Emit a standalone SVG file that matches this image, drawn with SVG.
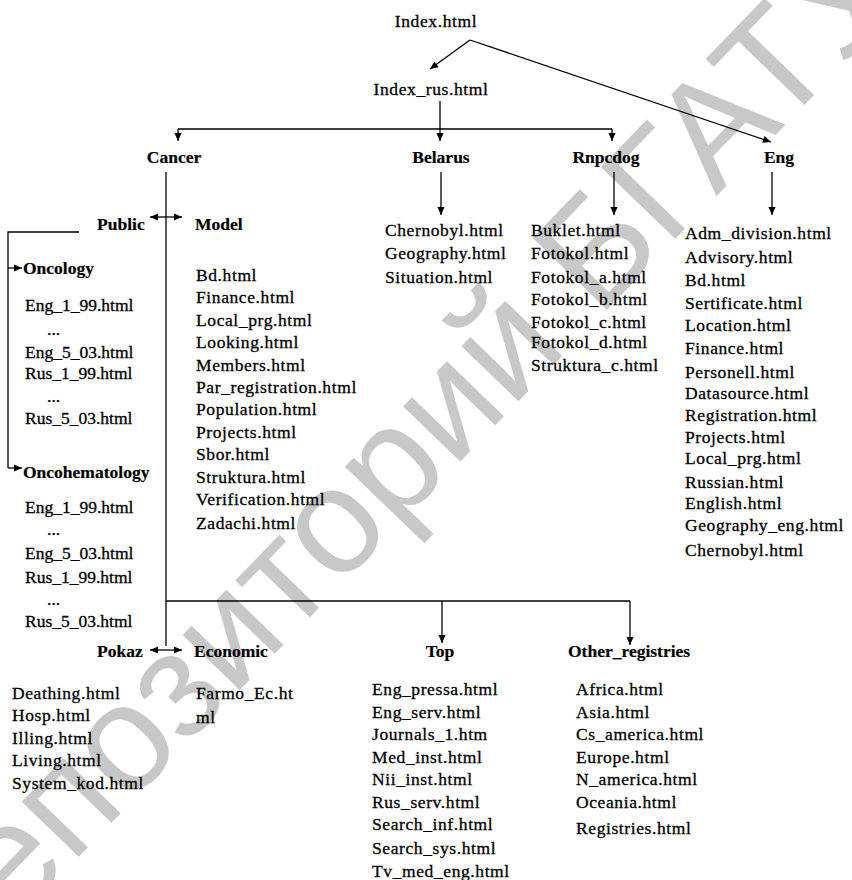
<svg xmlns="http://www.w3.org/2000/svg" width="852" height="880" viewBox="0 0 852 880">
<style>
.t text{font-size:17.5px;fill:#000;stroke:#000;stroke-width:0.3px;letter-spacing:0.6px}
.t .h{font-weight:bold;letter-spacing:0;stroke-width:0.2px}
.t .n{letter-spacing:0}
.t .c{text-anchor:middle}
.wm{font-size:150px;fill:#c8c8c8;text-anchor:middle}
.ln{fill:none;stroke:#000;stroke-width:1.3}
.ar{marker-end:url(#ah)}
.dar{marker-start:url(#ah);marker-end:url(#ah)}
</style>
<defs>
<marker id="ah" viewBox="0 0 10 10" refX="10" refY="5" markerWidth="10" markerHeight="8" markerUnits="userSpaceOnUse" orient="auto-start-reverse">
<path d="M0,0.5 L10,5 L0,9.5 z" fill="#000"/>
</marker>
</defs>
<rect width="852" height="880" fill="#fff"/>
<text class="wm" font-family="'Liberation Sans', Arial, sans-serif" transform="translate(428,495) rotate(-46)">Репозиторий БГАТУ</text>

<g id="connectors">
<path class="ln ar" d="M470,40 L430,69"/>
<path class="ln ar" d="M470,40 L771,142"/>
<path class="ln" d="M440,101 L440,129 M178,129 L612,129"/>
<path class="ln ar" d="M178,129 L178,141"/>
<path class="ln ar" d="M440,129 L440,141"/>
<path class="ln ar" d="M612,129 L612,141"/>
<path class="ln ar" d="M441,172 L441,215"/>
<path class="ln ar" d="M614,172 L614,215"/>
<path class="ln ar" d="M772,172 L772,215"/>
<path class="ln" d="M166,172 L166,646"/>
<path class="ln dar" d="M150,217 L182,217"/>
<path class="ln dar" d="M150,650 L182,650"/>
<path class="ln" d="M79,232 L8,232 L8,468"/>
<path class="ln ar" d="M8,268 L22,268"/>
<path class="ln ar" d="M8,468 L22,468"/>
<path class="ln" d="M166,601 L630,601"/>
<path class="ln ar" d="M442,601 L442,643"/>
<path class="ln ar" d="M630,601 L630,645"/>
</g>

<g class="t" font-family="'Liberation Serif', 'Times New Roman', 'DejaVu Serif', serif">
<g id="index"><text class="c" x="436" y="27">Index.html</text></g>
<g id="index_rus"><text class="c" x="431" y="95">Index_rus.html</text></g>
<g id="cancer"><text class="h c" x="174" y="163">Cancer</text></g>
<g id="belarus"><text class="h c" x="441" y="163">Belarus</text>
<text x="385" y="236">Chernobyl.html</text>
<text x="385" y="259">Geography.html</text>
<text x="385" y="283">Situation.html</text></g>
<g id="rnpcdog"><text class="h c" x="606" y="163">Rnpcdog</text>
<text x="531" y="236">Buklet.html</text>
<text x="531" y="259">Fotokol.html</text>
<text x="531" y="283">Fotokol_a.html</text>
<text x="531" y="305">Fotokol_b.html</text>
<text x="531" y="328">Fotokol_c.html</text>
<text x="531" y="348">Fotokol_d.html</text>
<text x="531" y="371">Struktura_c.html</text></g>
<g id="eng"><text class="h c" x="779" y="163">Eng</text>
<text x="685" y="239">Adm_division.html</text>
<text x="685" y="263">Advisory.html</text>
<text x="685" y="286">Bd.html</text>
<text x="685" y="309">Sertificate.html</text>
<text x="685" y="331">Location.html</text>
<text x="685" y="354">Finance.html</text>
<text x="685" y="378">Personell.html</text>
<text x="685" y="399">Datasource.html</text>
<text x="685" y="421">Registration.html</text>
<text x="685" y="443">Projects.html</text>
<text x="685" y="464">Local_prg.html</text>
<text x="685" y="488">Russian.html</text>
<text x="685" y="509">English.html</text>
<text x="685" y="531">Geography_eng.html</text>
<text x="685" y="556">Chernobyl.html</text></g>
<g id="public"><text class="h" x="97" y="230">Public</text></g>
<g id="model"><text class="h" x="195" y="230">Model</text>
<text x="196" y="281">Bd.html</text>
<text x="196" y="303">Finance.html</text>
<text x="196" y="326">Local_prg.html</text>
<text x="196" y="348">Looking.html</text>
<text x="196" y="371">Members.html</text>
<text x="196" y="393">Par_registration.html</text>
<text x="196" y="415">Population.html</text>
<text x="196" y="438">Projects.html</text>
<text x="196" y="460">Sbor.html</text>
<text x="196" y="483">Struktura.html</text>
<text x="196" y="505">Verification.html</text>
<text x="196" y="529">Zadachi.html</text></g>
<g id="oncology"><text class="h" x="23" y="274">Oncology</text>
<text class="n" x="25" y="311">Eng_1_99.html</text>
<text class="n" x="47" y="335">...</text>
<text class="n" x="25" y="358">Eng_5_03.html</text>
<text class="n" x="25" y="379">Rus_1_99.html</text>
<text class="n" x="47" y="402">...</text>
<text class="n" x="25" y="424">Rus_5_03.html</text></g>
<g id="oncohematology"><text class="h" x="23" y="478">Oncohematology</text>
<text class="n" x="25" y="513">Eng_1_99.html</text>
<text class="n" x="47" y="535">...</text>
<text class="n" x="25" y="559">Eng_5_03.html</text>
<text class="n" x="25" y="583">Rus_1_99.html</text>
<text class="n" x="47" y="605">...</text>
<text class="n" x="25" y="627">Rus_5_03.html</text></g>
<g id="pokaz"><text class="h" x="97" y="657">Pokaz</text>
<text x="12" y="699">Deathing.html</text>
<text x="12" y="721">Hosp.html</text>
<text x="12" y="744">Illing.html</text>
<text x="12" y="766">Living.html</text>
<text x="12" y="789">System_kod.html</text></g>
<g id="economic"><text class="h" x="194" y="657">Economic</text>
<text x="196" y="699">Farmo_Ec.ht</text>
<text x="196" y="723">ml</text></g>
<g id="top"><text class="h c" x="440" y="657">Top</text>
<text x="372" y="695">Eng_pressa.html</text>
<text x="372" y="718">Eng_serv.html</text>
<text x="372" y="740">Journals_1.htm</text>
<text x="372" y="763">Med_inst.html</text>
<text x="372" y="785">Nii_inst.html</text>
<text x="372" y="808">Rus_serv.html</text>
<text x="372" y="830">Search_inf.html</text>
<text x="372" y="854">Search_sys.html</text>
<text x="372" y="877">Tv_med_eng.html</text></g>
<g id="other_registries"><text class="h" x="568" y="657">Other_registries</text>
<text x="576" y="695">Africa.html</text>
<text x="576" y="718">Asia.html</text>
<text x="576" y="740">Cs_america.html</text>
<text x="576" y="763">Europe.html</text>
<text x="576" y="785">N_america.html</text>
<text x="576" y="808">Oceania.html</text>
<text x="576" y="834">Registries.html</text></g>
</g>
</svg>
